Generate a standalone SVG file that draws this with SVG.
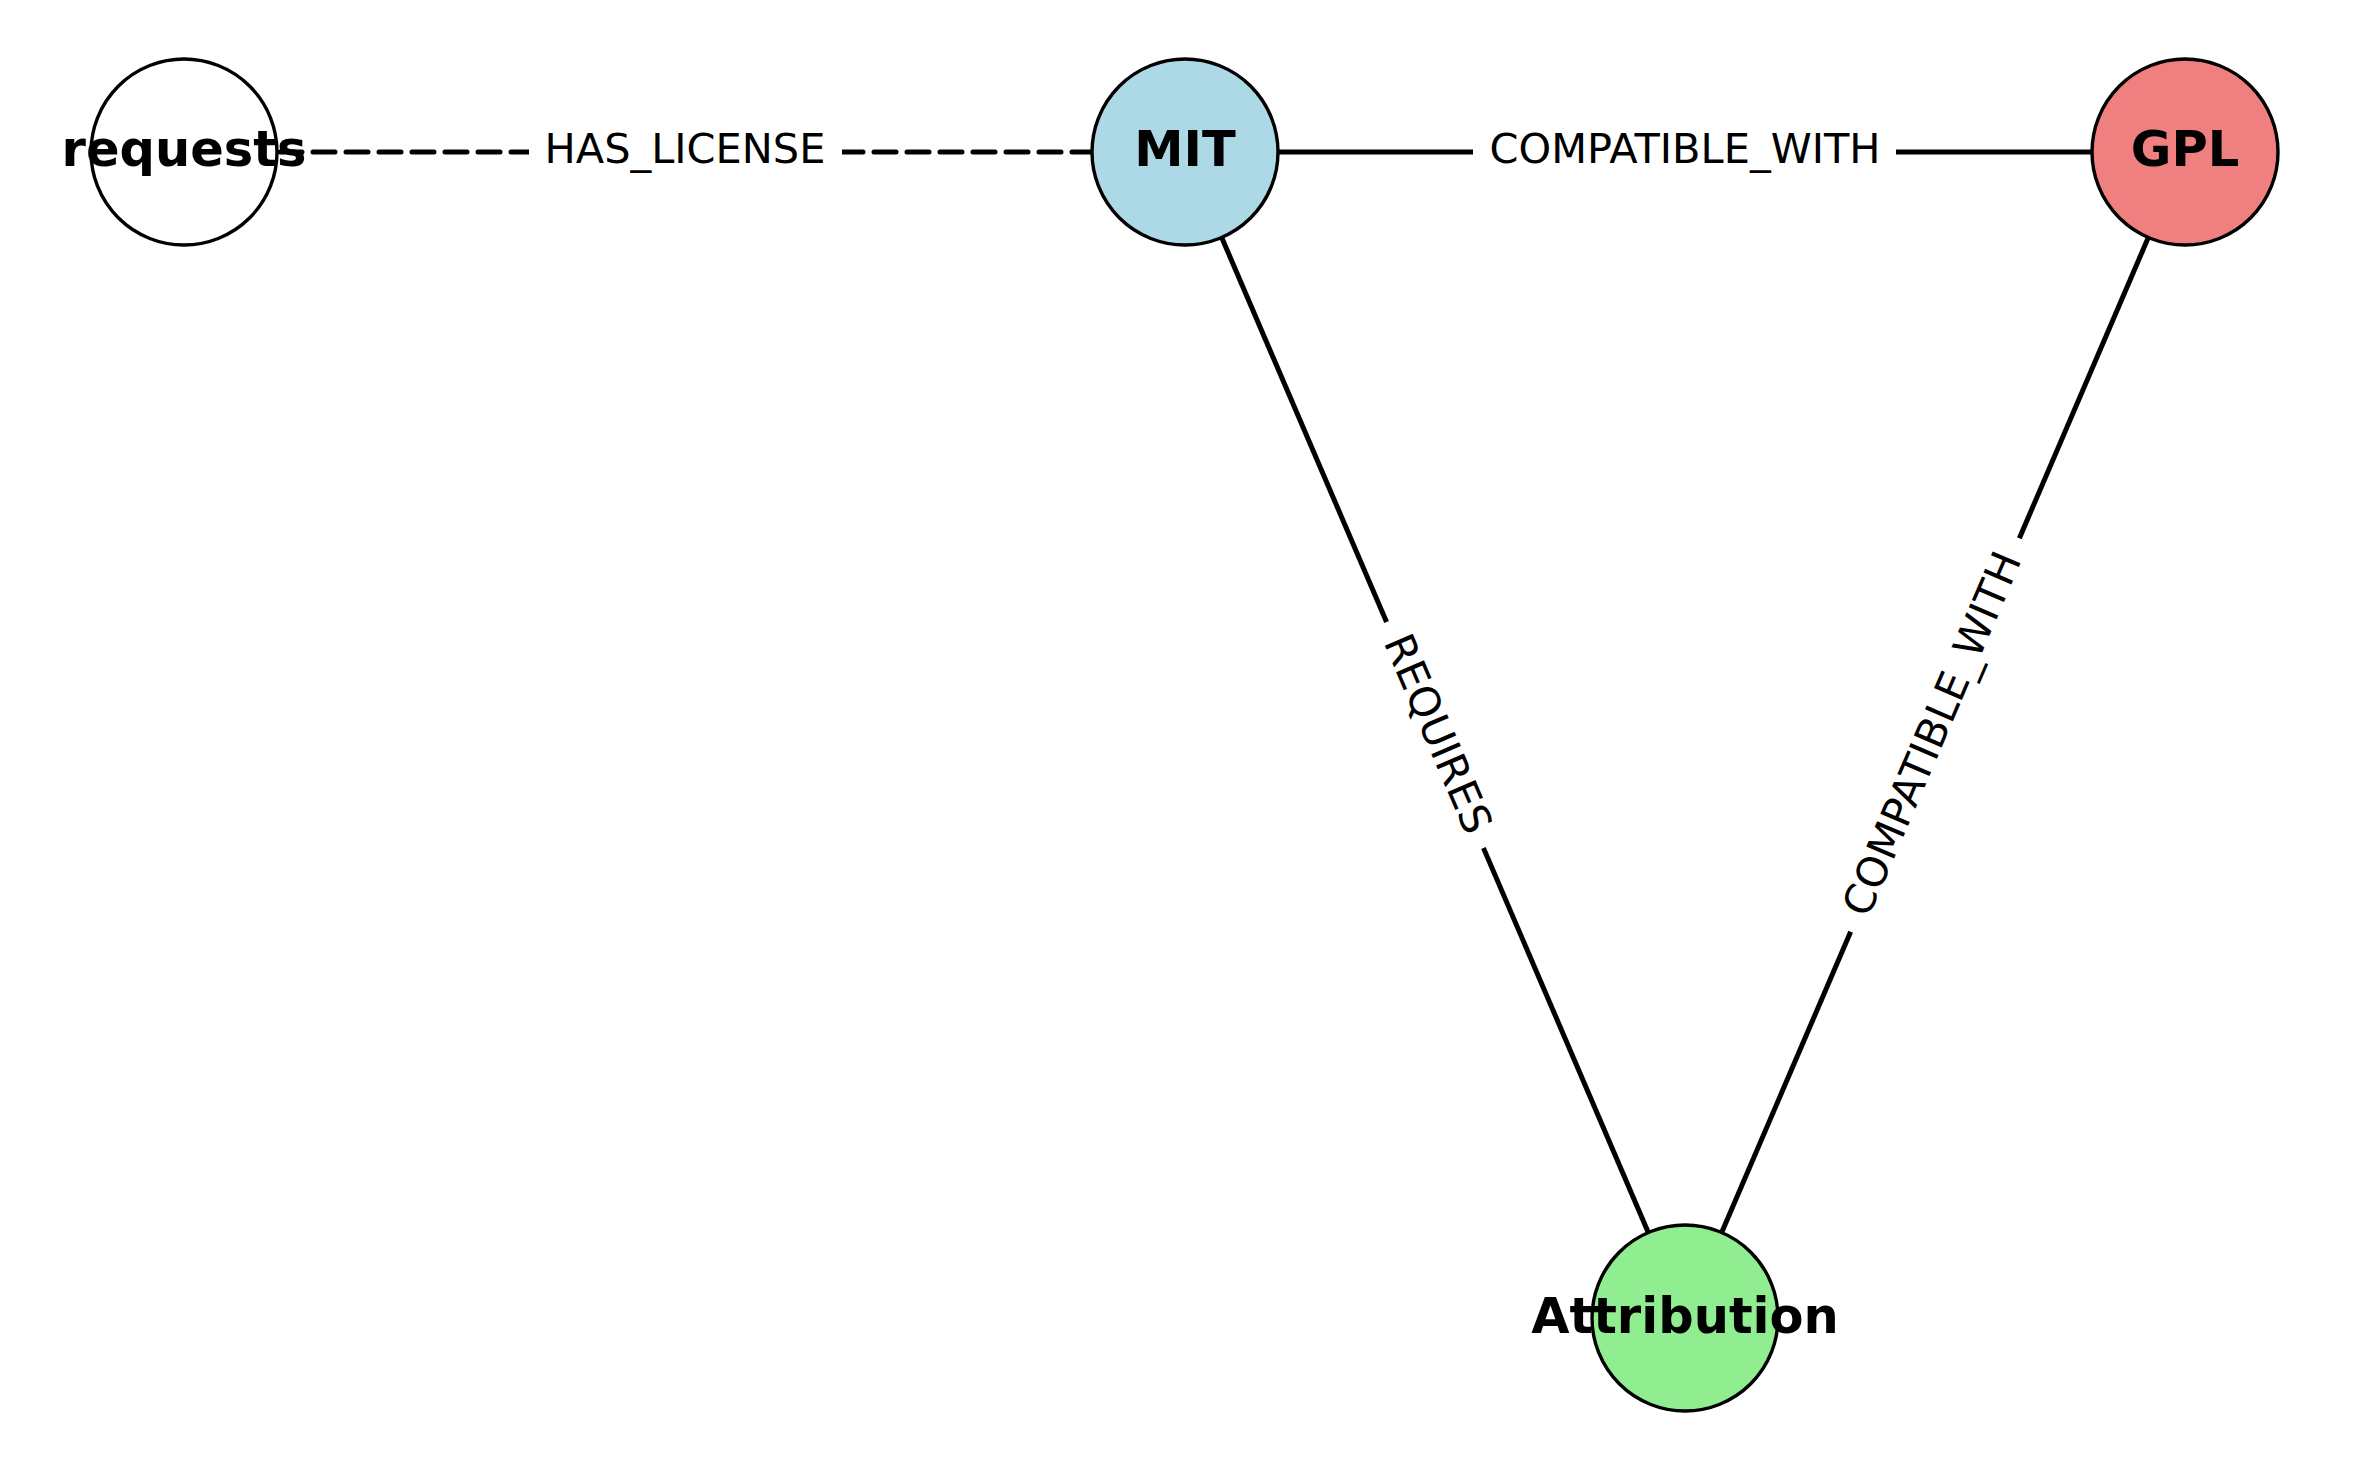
<svg xmlns="http://www.w3.org/2000/svg" width="2370" height="1470" viewBox="0 0 2370 1470">
<style>
.edge{stroke:#000;stroke-width:5;fill:none}
.dash{stroke-dasharray:22 11;stroke-linecap:round}
.node{stroke:#000;stroke-width:3.4}
.nlab{font-family:"DejaVu Sans",sans-serif;font-weight:bold;font-size:49.5px;text-anchor:middle;fill:#000}
.elab{font-family:"DejaVu Sans",sans-serif;font-size:41.5px;text-anchor:middle;fill:#000}
.lbg{fill:#fff;stroke:none}
</style>
<rect width="2370" height="1470" fill="#fff"/>
<g id="connectors">
<line class="edge dash" x1="280" y1="152" x2="1092" y2="152"/>
<line class="edge" x1="1278" y1="152" x2="2092" y2="152"/>
<line class="edge" x1="1221.7" y1="237.5" x2="1648.3" y2="1232.5"/>
<line class="edge" x1="2148.3" y1="237.5" x2="1721.7" y2="1232.5"/>
<g id="label-has-license">
<rect class="lbg" x="529" y="122" width="313" height="60"/>
<text class="elab" x="685" y="163">HAS_LICENSE</text>
</g>
<g id="label-compat-mit-gpl">
<rect class="lbg" x="1473" y="122" width="423" height="60"/>
<text class="elab" x="1685" y="163">COMPATIBLE_WITH</text>
</g>
<g id="label-requires" transform="translate(1435 735) rotate(66.8)">
<rect class="lbg" x="-123" y="-30" width="246" height="60"/>
<text class="elab" x="0" y="11">REQUIRES</text>
</g>
<g id="label-compat-gpl-attr" transform="translate(1935 735) rotate(-66.8)">
<rect class="lbg" x="-214" y="-30" width="428" height="60"/>
<text class="elab" x="0" y="11">COMPATIBLE_WITH</text>
</g>
</g>
<g id="node-requests">
<circle class="node" cx="184" cy="152" r="93" fill="#ffffff"/>
<text class="nlab" x="184" y="166">requests</text>
</g>
<g id="node-mit">
<circle class="node" cx="1185" cy="152" r="93" fill="#ADD8E6"/>
<text class="nlab" x="1185" y="166">MIT</text>
</g>
<g id="node-gpl">
<circle class="node" cx="2185" cy="152" r="93" fill="#F08080"/>
<text class="nlab" x="2185" y="166">GPL</text>
</g>
<g id="node-attribution">
<circle class="node" cx="1685" cy="1318" r="93" fill="#90EE90"/>
<text class="nlab" x="1685" y="1333">Attribution</text>
</g>
</svg>
